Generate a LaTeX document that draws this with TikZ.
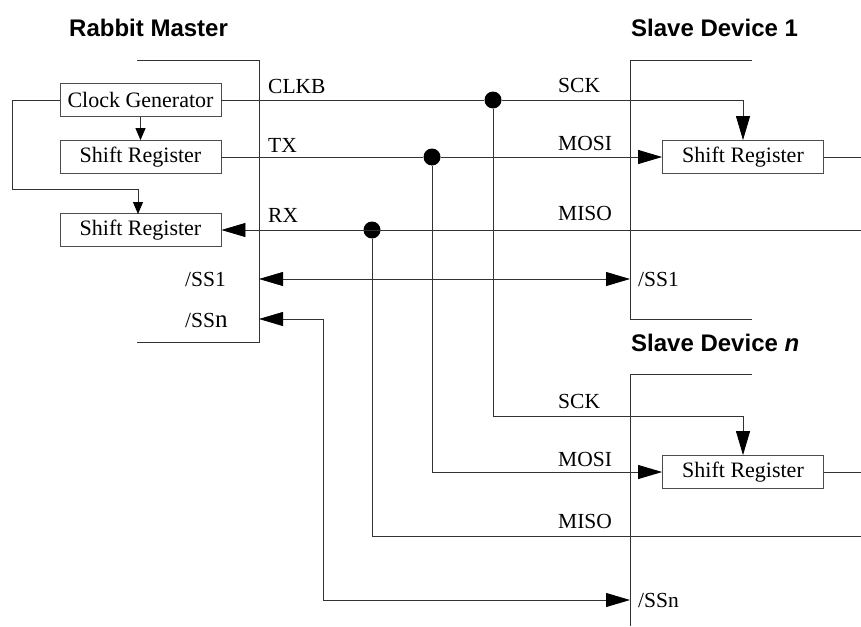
\documentclass[tikz,border=0pt]{standalone}
\usepackage{fontspec}
\setmainfont{Liberation Serif}
\setsansfont{Liberation Sans}
\usetikzlibrary{arrows.meta}
\begin{document}
\begin{tikzpicture}[x=1pt,y=-1pt,
  wire/.style={draw=black!80, line width=0.8pt},
  box/.style={draw=black!70, line width=0.8pt, minimum width=161pt, minimum height=33pt, inner sep=0pt, font=\fontsize{22}{22}\selectfont},
  bigarrow/.style={-{Triangle[length=24pt,width=14pt,black]}},
  bigboth/.style={{Triangle[length=24pt,width=14pt,black]}-{Triangle[length=24pt,width=14pt,black]}},
  smallarrow/.style={-{Triangle[length=12pt,width=10pt,black]}},
  lbl/.style={anchor=west, inner sep=0pt, font=\fontsize{21.5}{21.5}\selectfont},
  ttl/.style={anchor=west, inner sep=0pt, font=\sffamily\bfseries\fontsize{24}{24}\selectfont},
  jdot/.style={circle, fill=black, minimum size=17pt, inner sep=0pt}]
\useasboundingbox (0,0) rectangle (861,626);

% titles
\node[ttl] (tm) at (69,28) {Rabbit Master};
\node[ttl] (ts1) at (631,28) {Slave Device 1};
\node[ttl] (tsn) at (631,343) {Slave Device \textit{n}};

% device brackets
\draw[wire] (137,60) -- (259,60) -- (259,342) -- (137,342);
\draw[wire] (752,60) -- (630,60) -- (630,319) -- (752,319);
\draw[wire] (752,374) -- (630,374) -- (630,626);

% boxes
\node[box] (cg) at (140.5,100) {Clock Generator};
\node[box] (srtx) at (140.5,157) {Shift Register};
\node[box] (srrx) at (140.5,230) {Shift Register};
\node[box] (s1) at (743,157) {Shift Register};
\node[box] (sn) at (743,472) {Shift Register};

% junction dots
\node[jdot] (dclk) at (493,100) {};
\node[jdot] (dtx) at (432,157) {};
\node[jdot] (drx) at (372,230) {};

% helper coordinates
\coordinate (fbturn) at (12,189);
\coordinate (fbend) at (138,214);
\coordinate (sckn) at (493,416);
\coordinate (rxin) at (861,230);
\coordinate (mison) at (861,536);
\coordinate (out1) at (861,157);
\coordinate (outn) at (861,472);
\coordinate (mss1) at (259,279);
\coordinate (sss1) at (630,279);
\coordinate (mssn) at (259,319);
\coordinate (ssnturn) at (323,600);
\coordinate (sssn) at (630,600);

% master internal
\draw[wire,smallarrow] (cg) -- (srtx);
\draw[wire,smallarrow] (cg.west) -| (fbturn) -| (fbend);

% clock
\draw[wire] (cg.east) -- (dclk);
\draw[wire,bigarrow] (dclk) -| (s1.north);
\draw[wire,bigarrow] (dclk) -- (sckn) -| (sn.north);

% TX / MOSI
\draw[wire] (srtx.east) -- (dtx);
\draw[wire,bigarrow] (dtx) -- (s1.west);
\draw[wire,bigarrow] (dtx) |- (sn.west);

% RX / MISO
\draw[wire,bigarrow] (rxin) -- (srrx.east);
\draw[wire] (drx) |- (mison);

% slave outputs
\draw[wire] (s1.east) -- (out1);
\draw[wire] (sn.east) -- (outn);

% slave selects
\draw[wire,bigboth] (mss1) -- (sss1);
\draw[wire,bigboth] (mssn) -| (ssnturn) -- (sssn);

% labels
\node[lbl] (lclkb) at (268,86) {CLKB};
\node[lbl] (ltx) at (268,145) {TX};
\node[lbl] (lrx) at (268,215) {RX};
\node[lbl] (lsck1) at (558,85) {SCK};
\node[lbl] (lmosi1) at (558,143) {MOSI};
\node[lbl] (lmiso1) at (558,213) {MISO};
\node[lbl] (lsckn) at (558,401) {SCK};
\node[lbl] (lmoson) at (558,459) {MOSI};
\node[lbl] (lmison) at (558,521) {MISO};
\node[lbl] (lmss1) at (185,279) {/SS1};
\node[lbl] (lmssn) at (185,320) {/SS{\fontsize{25}{25}\selectfont n}};
\node[lbl] (lsss1) at (638,279) {/SS1};
\node[lbl] (lsssn) at (638,600) {/SSn};
\end{tikzpicture}
\end{document}
